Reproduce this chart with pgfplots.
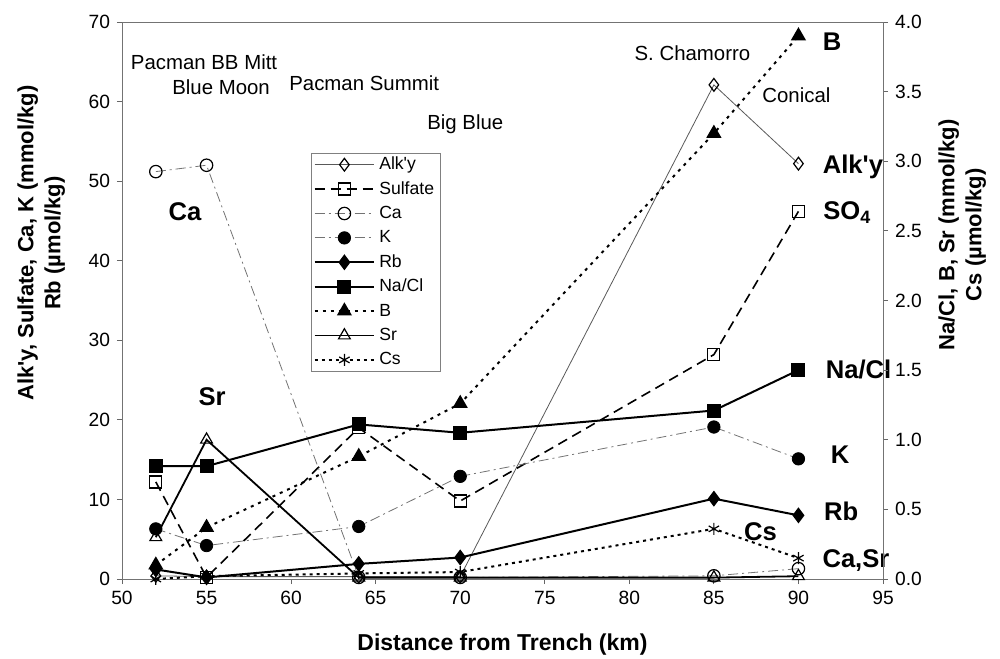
\documentclass[border=0pt]{standalone}
\usepackage{pgfplots}
\pgfplotsset{compat=1.18}
\usepackage{fontspec}
\setmainfont{Liberation Sans}[Ligatures=TeXOff]

\pgfplotstableread{
x   alk   so4   ca    k     rb
52  0.4   12.2  51.2  6.3   1.2
55  0.3   0.2   52.0  4.2   0.2
64  0.3   19.0  0.2   6.6   1.9
70  0.3   9.8   0.2   12.9  2.7
85  62.1  28.2  0.4   19.1  10.1
90  52.2  46.2  1.3   15.1  8.0
}\lefttab
\pgfplotstableread{
x   nacl  b     sr    cs
52  0.81  0.10  0.30  0.00
55  0.81  0.37  1.00  0.02
64  1.11  0.88  0.01  0.04
70  1.05  1.26  0.01  0.05
85  1.21  3.20  0.01  0.36
90  1.50  3.90  0.02  0.15
}\righttab

\pgfplotsset{
  common/.style={scale only axis, width=380.5pt, height=278.5pt,
    at={(0pt,0pt)}, anchor=south west, xmin=50, xmax=95,
    axis line style={black!55, line width=0.4pt},
    tick align=outside, major tick length=2.5pt,
    tick style={black!60, line width=0.4pt},
    ticklabel style={font=\fontsize{9.6}{11}\selectfont},
    /pgf/number format/assume math mode=true,
    clip=false},
  salk/.style={draw=black!65, line width=0.4pt, mark=diamond, mark size=3.2pt, mark options={solid, draw=black, fill=white, line width=0.6pt}},
  sso4/.style={draw=black, line width=0.8pt, dash pattern=on 5pt off 3pt, mark=square, mark size=3pt, mark options={solid, draw=black, fill=white, line width=0.6pt}},
  sca/.style={draw=black!55, line width=0.4pt, dash pattern=on 5pt off 2pt on 1pt off 2pt, mark=o, mark size=3.1pt, mark options={solid, draw=black, fill=white, line width=0.6pt}},
  sk/.style={draw=black!55, line width=0.4pt, dash pattern=on 5pt off 2pt on 1pt off 2pt, mark=*, mark size=3.1pt, mark options={solid, draw=black, fill=black}},
  srb/.style={draw=black, line width=1pt, mark=diamond*, mark size=3.2pt, mark options={solid, fill=black}},
  snacl/.style={draw=black, line width=1pt, mark=square*, mark size=3pt, mark options={solid, fill=black}},
  sb/.style={draw=black, line width=1pt, dash pattern=on 1.5pt off 2.5pt, mark=triangle*, mark size=3.4pt, mark options={solid, fill=black}},
  ssr/.style={draw=black, line width=0.9pt, mark=triangle, mark size=3.4pt, mark options={solid, draw=black, fill=white, line width=0.6pt}},
  scs/.style={draw=black, line width=1pt, dash pattern=on 1.5pt off 2pt, mark=asterisk, mark size=3pt, mark options={solid, line width=0.6pt}},
}

\begin{document}
\begin{tikzpicture}
\useasboundingbox (-61pt,-39.5pt) rectangle (439pt,289.5pt);
\begin{axis}[common,
  ymin=0, ymax=70, ytick={0,10,...,70},
  xtick={50,55,...,95},
  xtick pos=bottom, ytick pos=left,
  xlabel={Distance from Trench (km)},
  xlabel style={font=\fontsize{11.5}{13}\selectfont\bfseries, at={(axis description cs:0.5,-0.118)}, anchor=center},
  ylabel={Alk'y, Sulfate, Ca, K (mmol/kg)\\Rb (µmol/kg)},
  ylabel style={font=\fontsize{11}{13.5}\selectfont\bfseries, align=center, at={(axis description cs:-0.106,0.603)}, anchor=center},
]
\addplot[salk] table[x=x,y=alk] {\lefttab};
\addplot[sso4] table[x=x,y=so4] {\lefttab};
\addplot[sca] table[x=x,y=ca] {\lefttab};
\addplot[sk] table[x=x,y=k] {\lefttab};
\addplot[srb] table[x=x,y=rb] {\lefttab};

\begin{scope}[font=\fontsize{10.2}{12}\selectfont]
\node at (axis cs:54.85,64.95) {Pacman BB Mitt};
\node at (axis cs:55.86,61.8) {Blue Moon};
\node at (axis cs:64.32,62.3) {Pacman Summit};
\node at (axis cs:70.3,57.2) {Big Blue};
\node at (axis cs:83.73,66.1) {S. Chamorro};
\node at (axis cs:89.88,60.8) {Conical};
\end{scope}
\begin{scope}[font=\fontsize{12.8}{14}\selectfont\bfseries, inner sep=0pt]
\node at (axis cs:53.73,46.1) {Ca};
\node at (axis cs:55.33,22.9) {Sr};
\node[anchor=west] at (axis cs:91.42,67.5) {B};
\node[anchor=west] at (axis cs:91.42,51.8) {Alk'y};
\node[anchor=west] at (axis cs:91.45,46.0) {SO\textsubscript{4}};
\node[anchor=west] at (axis cs:91.6,26.3) {Na/Cl};
\node[anchor=west] at (axis cs:91.9,15.6) {K};
\node[anchor=west] at (axis cs:91.5,8.5) {Rb};
\node at (axis cs:87.75,5.9) {Cs};
\node[anchor=west] at (axis cs:91.4,2.3) {Ca,Sr};
\end{scope}
\end{axis}

\begin{axis}[common,
  ymin=0, ymax=4, ytick={0,0.5,...,4},
  axis y line*=right, axis x line=none,
  yticklabel style={/pgf/number format/.cd, fixed, fixed zerofill, precision=1},
  ylabel={Na/Cl, B, Sr (mmol/kg)\\Cs (µmol/kg)},
  ylabel style={font=\fontsize{11}{13.5}\selectfont\bfseries, align=center, at={(axis description cs:1.104,0.618)}, anchor=center, rotate=0},
  legend style={at={(axis description cs:0.248,0.765)}, anchor=north west,
    draw=black!50, line width=0.4pt, font=\fontsize{8.8}{10}\selectfont,
    cells={anchor=west}, row sep=3.2pt, inner sep=1.2pt,
    nodes={inner xsep=2pt, inner ysep=0pt, text height=7pt, text depth=2pt}},
  legend image code/.code={\draw[mark repeat=2,mark phase=2] plot coordinates {(0cm,0cm) (0.525cm,0cm) (1.05cm,0cm)};},
]
\addlegendimage{salk}\addlegendentry{Alk'y}
\addlegendimage{sso4}\addlegendentry{Sulfate}
\addlegendimage{sca}\addlegendentry{Ca}
\addlegendimage{sk}\addlegendentry{K}
\addlegendimage{srb}\addlegendentry{Rb}
\addplot[snacl] table[x=x,y=nacl] {\righttab};\addlegendentry{Na/Cl}
\addplot[sb] table[x=x,y=b] {\righttab};\addlegendentry{B}
\addplot[ssr] table[x=x,y=sr] {\righttab};\addlegendentry{Sr}
\addplot[scs] table[x=x,y=cs] {\righttab};\addlegendentry{Cs}
\end{axis}
\end{tikzpicture}
\end{document}
